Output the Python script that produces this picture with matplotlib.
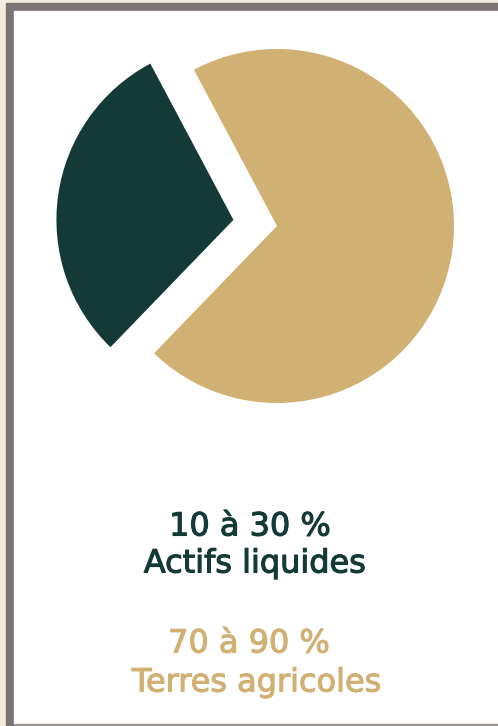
import matplotlib
matplotlib.use("Agg")
import matplotlib.pyplot as plt
import matplotlib.patheffects as pe
from matplotlib.patches import Rectangle

# Données du camembert
labels = ["Actifs liquides", "Terres agricoles"]
values = [30, 70]
colors = ["#143a37", "#d1b173"]

# Textes de légende
pct_texts = ["10 à 30 %", "70 à 90 %"]

W, H = 498, 726
fig = plt.figure(figsize=(W / 100, H / 100), dpi=100)
fig.patch.set_facecolor("#f3ecdc")
ax = fig.add_axes([0, 0, 1, 1])

# Cadre gris et fond blanc
ax.add_patch(Rectangle((6, 0), W - 6, H - 3, color="#7a7472", zorder=0))
ax.add_patch(Rectangle((14, 2), W - 14, H - 13, color="white", zorder=1))
ax.add_patch(Rectangle((14, 0), W - 14, 2, color="#9a9694", zorder=1))

# explode en unités de données (pixels ici)
ax.pie(values, colors=colors, explode=[44, 0], startangle=118,
       counterclock=True, radius=177, center=(277, H - 226),
       wedgeprops={"linewidth": 0, "zorder": 2})

font = "DejaVu Sans"
rows = [(pct_texts[0], colors[0], 250, 527), (labels[0], colors[0], 255, 564),
        (pct_texts[1], colors[1], 249, 644), (labels[1], colors[1], 257, 683)]
for txt, c, x, y in rows:
    ax.text(x, H - y, txt, color=c, fontsize=23, ha="center", va="center",
            family=font, zorder=3,
            path_effects=[pe.withStroke(linewidth=0.8, foreground=c)])

ax.set_xlim(0, W)
ax.set_ylim(0, H)
ax.set_aspect("equal")
ax.axis("off")

fig.savefig("out.png", dpi=100, facecolor=fig.get_facecolor())
